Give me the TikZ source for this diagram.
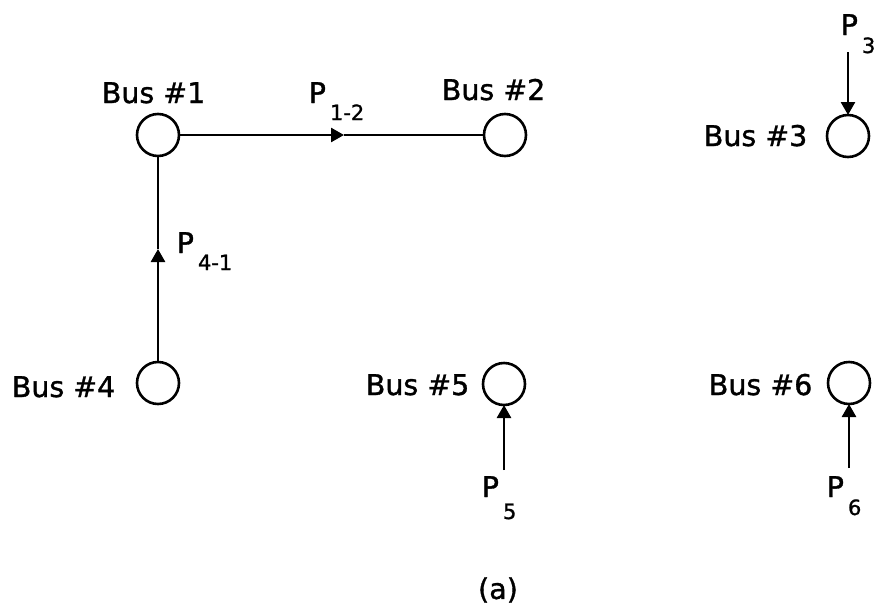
\documentclass[tikz,border=0pt]{standalone}
\usepackage{fontspec}
\newfontfamily\plotfont{DejaVu Sans}[FakeBold=1.2]
\usetikzlibrary{arrows.meta}
\newcommand{\Plab}[2]{P\hspace{4pt}\raisebox{-#2}{\fontsize{21}{21}\selectfont #1}}
\begin{document}
\begin{tikzpicture}[x=1pt,y=-1pt,line width=2.6pt,
  bus/.style={circle,draw,minimum size=42pt,inner sep=0pt,outer sep=0pt},
  lab/.style={anchor=base west,inner sep=0pt,font=\plotfont\fontsize{28.5}{28.5}\selectfont},
  flow/.style={-{Triangle[length=13pt,width=14pt]}}]
\useasboundingbox (0,0) rectangle (894,608);
% buses
\node[bus] (c1) at (158,135) {};
\node[bus] (c2) at (505,135) {};
\node[bus] (c3) at (848,136) {};
\node[bus] (c4) at (158,383) {};
\node[bus] (c5) at (504,384) {};
\node[bus] (c6) at (849,383) {};
% bus labels
\node[lab] (b1) at (100.5,103) {Bus \#1};
\node[lab] (b2) at (440.5,100) {Bus \#2};
\node[lab] (b3) at (702.5,146) {Bus \#3};
\node[lab] (b4) at (10.5,397) {Bus \#4};
\node[lab] (b5) at (364.5,395) {Bus \#5};
\node[lab] (b6) at (707.5,395) {Bus \#6};
% power labels
\node[lab] (p12) at (307.5,103) {\Plab{1-2}{17pt}};
\node[lab] (p3) at (839.5,35) {\Plab{3}{18pt}};
\node[lab] (p41) at (175.5,253) {\Plab{4-1}{17pt}};
\node[lab] (p5) at (480.5,497) {\Plab{5}{22pt}};
\node[lab] (p6) at (825.5,497) {\Plab{6}{18pt}};
\node[inner sep=0pt,font=\plotfont\fontsize{28.5}{28.5}\selectfont] (cap) at (498,590) {(a)};
% connectors
\coordinate (m12) at (344,135);
\coordinate (m41) at (158,249);
\coordinate (s3) at (848,52);
\coordinate (s5) at (504,470);
\coordinate (s6) at (849,468);
\draw[flow] (c1) -- (m12);
\draw (m12) -- (c2);
\draw[flow] (c4) -- (m41);
\draw (m41) -- (c1);
\draw[flow] (s3) -- (c3);
\draw[flow] (s5) -- (c5);
\draw[flow] (s6) -- (c6);
\end{tikzpicture}
\end{document}
